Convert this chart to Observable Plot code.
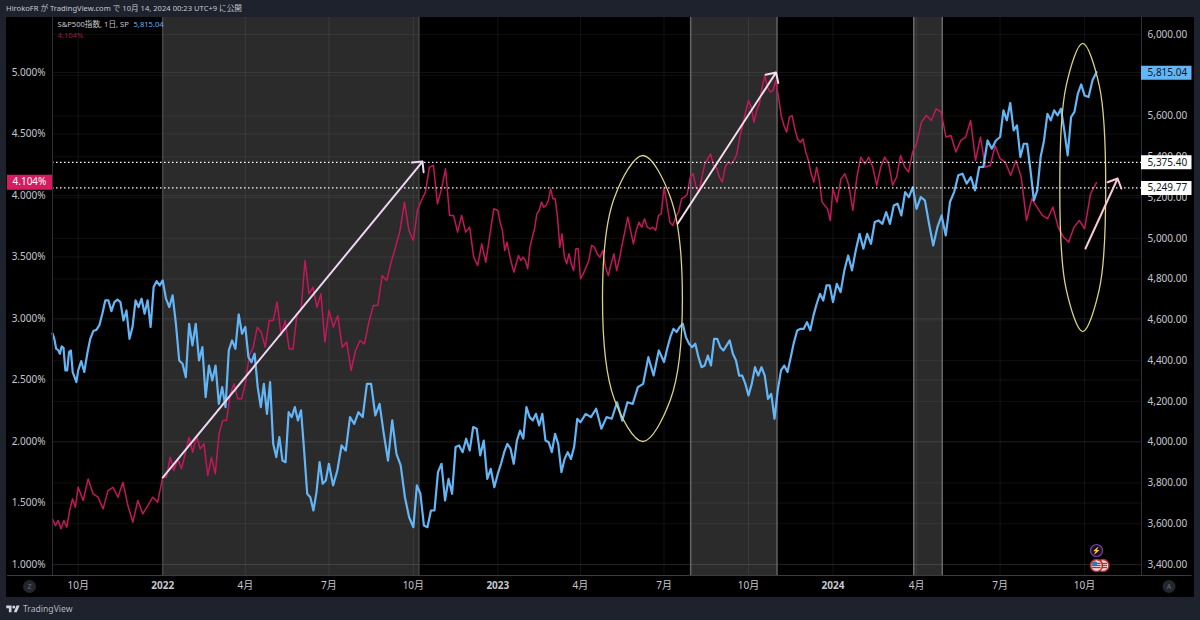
<!DOCTYPE html>
<html lang="ja">
<head>
<meta charset="utf-8">
<script src="https://cdn.jsdelivr.net/npm/d3@7"></script>
<script src="https://cdn.jsdelivr.net/npm/@observablehq/plot@0.6"></script>
<style>
html,body{margin:0;padding:0;background:#1e222d;width:1200px;height:620px;overflow:hidden;font-family:"Noto Sans","Noto Sans CJK JP",sans-serif}
#head{height:17px;line-height:17px;padding-left:6px;font-size:7.6px;color:#c3c6ce;white-space:nowrap}
#chart{margin-left:6px;height:580px;width:1188px}
#chart svg{display:block}
#foot{height:23px;padding-left:6px;display:flex;align-items:center;gap:3px;font-size:8.6px;color:#b2b5be}
</style>
</head>
<body>
<div id="head">HirokoFR が TradingView.com で 10月 14, 2024 00:23 UTC+9 に公開</div>
<div id="chart"></div>
<div id="foot"><svg width="14" height="9" viewBox="0 0 36 24"><path fill="#d1d4dc" d="M14 22H7V11H0V4h14v18zM28 22h-8l7.5-18h8L28 22z"/><circle fill="#d1d4dc" cx="20" cy="8" r="4"/></svg><span>TradingView</span></div>
<script>
// Quarter boundaries of the time axis
const quarterEdges = ["2021-09-03","2021-10-01","2022-01-01","2022-04-01","2022-07-01","2022-10-01","2023-01-01","2023-04-01","2023-07-01","2023-10-01","2024-01-01","2024-04-01","2024-07-01","2024-10-01","2024-10-14"];

// S&P 500 index, one list per quarter
const spxQ3_21 = [4532,4507,4458,4453,4434,4470,4463,4352,4352,4442,4450,4344,4319,4295];
const spxQ4_21 = [4352,4398,4344,4434,4507,4545,4551,4573,4630,4696,4696,4643,4687,4699,4687,4597,4646,4507,4565,4696,4663,4704,4630,4696,4565,4761,4790,4769];
const spxQ1_22 = [4794,4704,4663,4720,4581,4401,4385,4319,4581,4475,4581,4401,4466,4221,4376,4303,4376,4188,4270,4172,4450,4499,4458,4627,4532];
const spxQ2_22 = [4565,4417,4393,4434,4270,4172,4286,4139,4295,3992,3927,4025,3910,3902,4147,4123,4172,4107,4156,3959,3747,3730,3665,3755,3902,3796,3812];
const spxQ3_22 = [3894,3788,3861,3984,3959,4123,4090,4147,4123,4286,4286,4131,4188,4041,3910,4107,3943,3886,3730,3632];
const spxQ4_22 = [3583,3788,3747,3591,3583,3665,3665,3853,3894,3714,3820,3747,3976,3984,3951,4017,3959,4074,4066,3935,4008,3820,3869,3779];
const spxQ1_23 = [3845,3894,3951,3992,3968,3894,4008,4057,4017,4172,4123,4107,4139,4082,4139,4008,4000,3951,4041,3992,3853,3918,3951,3918,3976,4115];
const spxQ2_23 = [4098,4139,4123,4164,4066,4123,4115,4196,4106,4196,4188,4270,4286,4417,4327,4450];
const spxQ3_23 = [4393,4458,4515,4556,4540,4565,4581,4515,4483,4466,4483,4417,4368,4376,4425,4376,4507,4507,4466,4450,4475,4499,4434,4401,4327,4327,4286];
const spxQ4_23 = [4229,4286,4368,4327,4368,4327,4213,4237,4115,4254,4352,4376,4344,4417,4491,4548,4556,4556,4589,4548,4622,4679,4728,4695,4769,4769];
const spxQ1_24 = [4687,4777,4736,4843,4916,4843,4941,5022,4949,5022,4973,5080,5088,5071,5129,5071,5161,5170,5112,5227,5202,5251];
const spxQ2_24 = [5145,5202,5186,5071,4965,5055,5112,5014,5178,5227,5309,5317,5268,5300,5235,5350,5350,5480,5440,5480];
const spxQ3_24 = [5497,5628,5579,5664,5530,5554,5399,5464,5464,5333,5186,5235,5399,5480,5611,5579,5628,5603,5636,5530,5407,5595,5620,5709,5755];
const spxQ4_24 = [5701,5693,5775,5815.04];

// 10-year yield (%), one list per quarter
const yieldQ3_21 = [1.371,1.317,1.358,1.290,1.358,1.303,1.439,1.534,1.466];
const yieldQ4_21 = [1.628,1.520,1.696,1.574,1.547,1.452,1.601,1.628,1.547,1.669,1.479,1.344,1.520,1.412,1.479,1.547,1.507];
const yieldQ1_22 = [1.710,1.710,1.872,1.764,1.859,1.778,1.900,2.035,1.913,2.049,1.940,1.981,1.723,1.872,1.737,2.062,2.170,2.170,2.387,2.469,2.347,2.347];
const yieldQ2_22 = [2.469,2.699,2.767,2.929,2.889,2.767,2.983,2.983,3.133,2.862,2.983,2.753,2.753,3.038,3.065,3.472,3.201,3.255,3.092,3.201,2.808];
const yieldQ3_22 = [3.065,2.930,3.024,2.767,2.808,2.577,2.740,2.821,2.794,2.970,3.106,3.106,3.350,3.309,3.458,3.580,3.716,3.946,3.716];
const yieldQ4_22 = [3.634,3.878,3.959,4.027,4.231,4.244,3.932,4.054,4.217,3.838,3.838,3.702,3.838,3.702,3.743,3.499,3.431,3.607,3.458,3.675,3.892];
const yieldQ1_23 = [3.878,3.783,3.716,3.553,3.621,3.526,3.445,3.377,3.445,3.512,3.472,3.499,3.472,3.404,3.580,3.661,3.729,3.851,3.878,3.946,3.905,3.919,3.959,4.054,3.973,3.973,3.824,3.580,3.688,3.499,3.445,3.526,3.445,3.390,3.567,3.567];
const yieldQ2_23 = [3.323,3.363,3.417,3.472,3.594,3.580,3.526,3.498,3.553,3.417,3.349,3.444,3.525,3.390,3.485,3.607,3.715,3.824,3.715,3.607,3.715,3.783,3.742,3.810,3.742,3.729,3.742,3.715,3.837,3.851];
const yieldQ3_23 = [4.067,3.932,3.783,3.756,3.824,3.864,3.973,3.986,4.013,4.149,4.176,4.067,4.027,4.149,4.257,4.298,4.338,4.244,4.230,4.149,4.108,4.230,4.271,4.257,4.284,4.338,4.474,4.569,4.677];
const yieldQ4_23 = [4.772,4.718,4.596,4.691,4.745,4.880,4.975,4.880,4.840,4.853,4.935,4.799,4.650,4.569,4.515,4.637,4.650,4.542,4.460,4.433,4.460,4.352,4.284,4.176,4.108,4.230,4.122,3.946,3.918,3.891,3.797];
const yieldQ1_24 = [4.054,3.946,4.135,4.176,4.081,3.878,4.149,4.311,4.257,4.311,4.230,4.081,4.230,4.312,4.258,4.082,4.150,4.326,4.231,4.190,4.353];
const yieldQ2_24 = [4.420,4.597,4.651,4.610,4.705,4.678,4.475,4.488,4.353,4.448,4.475,4.610,4.285,4.475,4.231,4.244,4.407];
const yieldQ3_24 = [4.299,4.271,4.163,4.285,4.150,3.797,3.973,3.906,3.838,3.811,3.906,3.743,3.662,3.621,3.743,3.797];
const yieldQ4_24 = [3.729,4.014,4.104];

// Axis ticks
const pctTicks = [1,1.5,2,2.5,3,3.5,4,4.5,5];
const spxTicks = [3400,3600,3800,4000,4200,4400,4600,4800,5000,5200,5400,5600,5800,6000];
const spxTickLabels = [3400,3600,3800,4000,4200,4400,4600,4800,5000,5200,5400,5600,6000];
const monthTicks = [["2021-10-01","10月"],["2022-04-01","4月"],["2022-07-01","7月"],["2022-10-01","10月"],["2023-04-01","4月"],["2023-07-01","7月"],["2023-10-01","10月"],["2024-04-01","4月"],["2024-07-01","7月"],["2024-10-01","10月"]];
const yearTicks = [["2022-01-01","2022"],["2023-01-01","2023"],["2024-01-01","2024"]];

// Shaded periods
const shadeStart = ["2022-01-01","2023-07-30","2024-03-29"];
const shadeEnd = ["2022-10-07","2023-11-01","2024-04-29"];
const shadeEdgeColor = ["#454545","#666666","#6a6a6a"];

// Hand-drawn annotations
const arrowFrom = [["2022-01-01",1.707],["2023-07-16",3.772],["2024-10-02",3.569]];
const arrowTo = [["2022-10-11",4.276],["2023-10-31",5.0],["2024-11-06",4.138]];
const arrowColor = ["#ecd6f2","#f6dcec","#f8c8d8"];
const ellipseA = [["2023-07-21",3.163],["2023-07-08",2.341],["2023-06-08",2.0],["2023-05-08",2.341],["2023-04-25",3.163],["2023-05-08",3.984],["2023-06-08",4.325],["2023-07-08",3.984]];
const ellipseB = [["2024-10-24",4.065],["2024-10-17",3.236],["2024-09-29",2.894],["2024-09-11",3.236],["2024-09-04",4.065],["2024-09-11",4.894],["2024-09-29",5.236],["2024-10-17",4.894]];

// Price levels and end labels
const levels = [5375.40,5249.77];
const lastSpx = 5815.04;
const lastYield = 4.104;

// Dual axis: the S&P scale is mapped onto the yield scale
const spxToPct = d3.scaleLinear([3400,6000],[1,5.309]);
const utc = s => new Date(s + "T00:00:00Z");
const fmtSpx = d3.format(",.2f");

function buildSeries(quarters, key){
  const out = [];
  quarters.forEach((vals,q)=>{
    const a = +utc(quarterEdges[q]), b = +utc(quarterEdges[q+1]);
    const last = q === quarters.length-1;
    vals.forEach((v,i)=>{
      out.push({date:new Date(a+(b-a)*i/(last?vals.length-1:vals.length)), [key]:v});
    });
  });
  return out;
}
const spxData = buildSeries([spxQ3_21,spxQ4_21,spxQ1_22,spxQ2_22,spxQ3_22,spxQ4_22,spxQ1_23,spxQ2_23,spxQ3_23,spxQ4_23,spxQ1_24,spxQ2_24,spxQ3_24,spxQ4_24],"spx");
const yieldData = buildSeries([yieldQ3_21,yieldQ4_21,yieldQ1_22,yieldQ2_22,yieldQ3_22,yieldQ4_22,yieldQ1_23,yieldQ2_23,yieldQ3_23,yieldQ4_23,yieldQ1_24,yieldQ2_24,yieldQ3_24,yieldQ4_24],"rate");

const shades = shadeStart.map((s,i)=>({x1:utc(s),x2:utc(shadeEnd[i])}));
const shadeEdges = shades.flatMap((d,i)=>[{x:d.x1,c:shadeEdgeColor[i]},{x:d.x2,c:shadeEdgeColor[i]}]);
const arrows = arrowFrom.map((f,i)=>({x1:utc(f[0]),y1:f[1],x2:utc(arrowTo[i][0]),y2:arrowTo[i][1],c:arrowColor[i]}));
const toPts = a => a.map(d=>({x:utc(d[0]),y:d[1]}));

const xStart = utc("2021-09-03"), xEnd = utc("2024-12-02");
const tagRight = utc("2025-01-26"), tagLeft = utc("2021-07-16");
const tagRows = [
  {y:spxToPct(lastSpx),bg:"#64b5f6",fg:"#131722",t:fmtSpx(lastSpx)},
  {y:spxToPct(levels[0]),bg:"#ffffff",fg:"#131722",t:fmtSpx(levels[0])},
  {y:spxToPct(levels[1]),bg:"#ffffff",fg:"#131722",t:fmtSpx(levels[1])}
];
const flagBars = [0.975,0.992,1.009];
const flagRows = flagBars.flatMap(y=>[{x1:utc("2024-10-09"),x2:utc("2024-10-19"),y},{x1:utc("2024-10-20"),x2:utc("2024-10-26"),y}]);
const font = "'Noto Sans','Noto Sans CJK JP',sans-serif";
const axisFill = "#c4c7ce";

const chart = Plot.plot({
  width:1188, height:580,
  marginLeft:46, marginRight:53, marginTop:0, marginBottom:22,
  style:{background:"#000",color:axisFill,fontFamily:font,fontSize:"10px",overflow:"visible"},
  x:{type:"utc",domain:[xStart,xEnd]},
  y:{domain:[0.9106,5.447]},
  marks:[
    Plot.rect(shades,{x1:"x1",x2:"x2",fill:"#2b2b2b"}),
    Plot.ruleY(pctTicks,{stroke:"#fff",strokeOpacity:0.07}),
    Plot.ruleY(spxTicks.map(spxToPct),{stroke:"#fff",strokeOpacity:0.06}),
    Plot.ruleX(monthTicks.concat(yearTicks).map(d=>utc(d[0])),{stroke:"#fff",strokeOpacity:0.07}),
    Plot.ruleX(shadeEdges,{x:"x",stroke:"c",strokeWidth:1.5}),
    Plot.line(yieldData,{x:"date",y:"rate",stroke:"#c2185b",strokeWidth:1.5,strokeLinejoin:"round"}),
    Plot.line(spxData,{x:"date",y:d=>spxToPct(d.spx),stroke:"#64b5f6",strokeWidth:2.2,strokeLinejoin:"round"}),
    Plot.line(toPts(ellipseA),{x:"x",y:"y",curve:"catmull-rom-closed",stroke:"#d9d184",strokeWidth:1.3}),
    Plot.line(toPts(ellipseB),{x:"x",y:"y",curve:"catmull-rom-closed",stroke:"#d9d184",strokeWidth:1.3}),
    Plot.ruleY(levels.map(spxToPct),{stroke:"#fff",strokeWidth:1.2,strokeDasharray:"1.5,2.5",dy:0.5}),
    Plot.arrow(arrows,{x1:"x1",y1:"y1",x2:"x2",y2:"y2",stroke:"c",strokeWidth:2,headLength:8,headAngle:90}),
    // panel separators
    Plot.ruleX([xStart,xEnd],{stroke:"#2e3038"}),
    Plot.ruleY([0.9106],{x1:tagLeft,x2:tagRight,stroke:"#3a3c42"}),
    // axes
    Plot.axisY({anchor:"left",ticks:pctTicks,tickSize:0,tickPadding:7,label:null,tickFormat:d=>d.toFixed(3)+"%"}),
    Plot.axisY({anchor:"right",ticks:spxTickLabels.map(spxToPct),tickSize:0,tickPadding:6,label:null,tickFormat:d=>fmtSpx(Math.round(spxToPct.invert(d)))}),
    Plot.axisX({anchor:"bottom",ticks:monthTicks.map(d=>utc(d[0])),tickSize:0,tickPadding:6.5,label:null,tickFormat:d=>monthTicks.find(m=>+utc(m[0])===+d)[1]}),
    Plot.axisX({anchor:"bottom",ticks:yearTicks.map(d=>utc(d[0])),tickSize:0,tickPadding:6.5,label:null,fontWeight:"bold",tickFormat:d=>yearTicks.find(m=>+utc(m[0])===+d)[1]}),
    // end-of-line tags
    Plot.ruleY(tagRows,{y:"y",x1:()=>xEnd,x2:()=>tagRight,stroke:"bg",strokeWidth:14,dy:0.5}),
    Plot.text(tagRows,{x:()=>xEnd,y:"y",text:"t",fill:"fg",textAnchor:"start",dx:6,dy:0.5,fontSize:10}),
    Plot.ruleY([lastYield],{x1:tagLeft,x2:xStart,stroke:"#d81b60",strokeWidth:15,dy:-0.5}),
    Plot.text([lastYield],{x:()=>tagLeft,y:d=>d,text:d=>d.toFixed(3)+"%",fill:"#fff",textAnchor:"start",dx:5,dy:-0.5,fontSize:10}),
    // legend
    Plot.text(["S&P500指数, 1日, SP"],{frameAnchor:"top-left",dx:5,dy:4,fill:"#c4c7ce",fontSize:7.6}),
    Plot.text([fmtSpx(lastSpx)],{frameAnchor:"top-left",dx:81,dy:4,fill:"#64b5f6",fontSize:7.6}),
    Plot.text([lastYield.toFixed(3)+"%"],{frameAnchor:"top-left",dx:5,dy:15,fill:"#a3174f",fontSize:7.6}),
    // chart icons
    Plot.dot([{x:utc("2021-08-09"),y:0.821,t:"Z"},{x:utc("2025-01-01"),y:0.821,t:"A"}],{x:"x",y:"y",r:6.5,fill:"#24262e"}),
    Plot.text([{x:utc("2021-08-09"),y:0.821,t:"Z"},{x:utc("2025-01-01"),y:0.821,t:"A"}],{x:"x",y:"y",text:"t",fill:"#6a6d78",fontSize:7}),
    Plot.dot([{x:utc("2024-10-14"),y:1.114}],{x:"x",y:"y",r:6,fill:"#1a1024",stroke:"#7b3fa6",strokeWidth:1.2}),
    Plot.text([{x:utc("2024-10-14"),y:1.114}],{x:"x",y:"y",text:()=>"⚡",fill:"#9c5fd0",fontSize:7}),
    Plot.dot([{x:utc("2024-10-21"),y:0.992},{x:utc("2024-10-14"),y:0.992}],{x:"x",y:"y",r:6,fill:"#e8dcdc",stroke:"#c62828",strokeWidth:1.5}),
    Plot.ruleY(flagRows,{x1:"x1",x2:"x2",y:"y",stroke:"#c62828",strokeWidth:1.2}),
    Plot.dot([{x:utc("2024-10-12"),y:1.006}],{x:"x",y:"y",r:2.6,fill:"#3f6fc4"})
  ]
});
document.getElementById("chart").append(chart);
</script>
</body>
</html>
